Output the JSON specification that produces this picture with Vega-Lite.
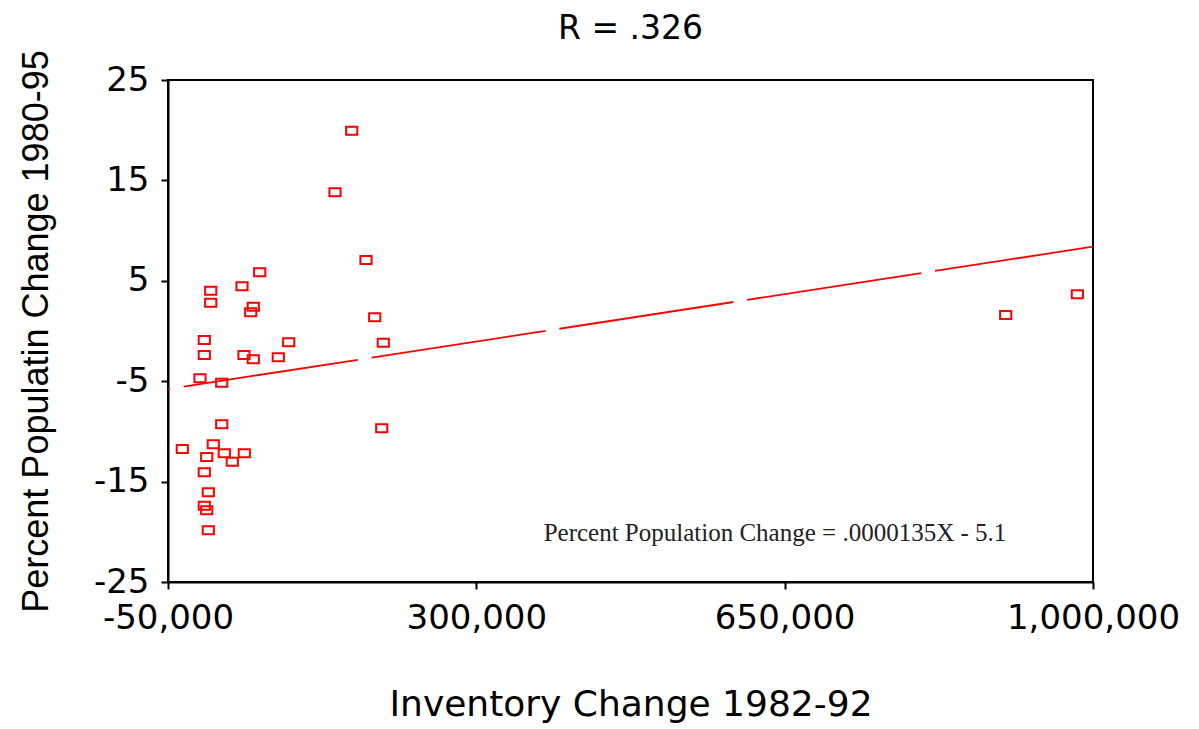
{
  "$schema": "https://vega.github.io/schema/vega-lite/v6.json",
  "width": 925,
  "height": 502,
  "autosize": {"type": "none"},
  "padding": {"left": 168, "top": 80, "right": 106, "bottom": 147},
  "background": "white",
  "title": {
    "text": "R = .326",
    "anchor": "middle",
    "frame": "group",
    "offset": 4,
    "font": "DejaVu Sans",
    "fontSize": 33,
    "fontWeight": "normal",
    "color": "black"
  },
  "config": {
    "view": {"stroke": "black", "strokeWidth": 2},
    "axis": {
      "grid": false,
      "domainColor": "black",
      "domainWidth": 2,
      "tickColor": "black",
      "tickWidth": 2,
      "tickSize": 7,
      "labelFont": "DejaVu Sans",
      "labelFontSize": 34,
      "labelColor": "black",
      "titleColor": "black",
      "titleFontWeight": "normal"
    }
  },
  "datasets": {
    "points": [
      {"x": 158520, "y": 19.95},
      {"x": 139560, "y": 13.81},
      {"x": 174750, "y": 7.07},
      {"x": 54090, "y": 5.85},
      {"x": 34000, "y": 4.45},
      {"x": -1530, "y": 4.01},
      {"x": -1530, "y": 2.81},
      {"x": 46830, "y": 2.42},
      {"x": 43870, "y": 1.86},
      {"x": 184630, "y": 1.37},
      {"x": -8800, "y": -0.9},
      {"x": 87010, "y": -1.13},
      {"x": 194390, "y": -1.17},
      {"x": -8800, "y": -2.39},
      {"x": 36270, "y": -2.39},
      {"x": 46830, "y": -2.82},
      {"x": 75200, "y": -2.62},
      {"x": -13680, "y": -4.71},
      {"x": 10950, "y": -5.15},
      {"x": 10950, "y": -9.29},
      {"x": 192570, "y": -9.69},
      {"x": -33770, "y": -11.75},
      {"x": 1420, "y": -11.28},
      {"x": -6070, "y": -12.55},
      {"x": 13910, "y": -12.18},
      {"x": 22990, "y": -13.02},
      {"x": 36610, "y": -12.18},
      {"x": -8800, "y": -14.07},
      {"x": -4260, "y": -16.07},
      {"x": -8800, "y": -17.4},
      {"x": -6070, "y": -17.86},
      {"x": -4260, "y": -19.85},
      {"x": 900890, "y": 1.59},
      {"x": 982250, "y": 3.66}
    ],
    "fit": [
      {"x": -50000, "y": -5.775},
      {"x": 1000000, "y": 8.4}
    ],
    "note": [
      {"label": "Percent Population Change = .0000135X - 5.1", "x": 639000, "y": -20.1}
    ]
  },
  "layer": [
    {
      "data": {"name": "fit"},
      "mark": {"type": "line", "color": "#ff0000", "strokeWidth": 1.8, "strokeDash": [176, 14], "strokeDashOffset": 174, "clip": true},
      "encoding": {
        "x": {
          "field": "x", "type": "quantitative",
          "scale": {"domain": [-50000, 1000000], "nice": false, "zero": false},
          "axis": {
            "values": [-50000, 300000, 650000, 1000000],
            "labelExpr": "replace(format(datum.value, ','), '\u2212', '-')",
            "labelPadding": 12,
            "labelFlush": false,
            "title": "Inventory Change 1982-92",
            "titleFont": "DejaVu Sans",
            "titleFontSize": 36,
            "titlePadding": 52
          }
        },
        "y": {
          "field": "y", "type": "quantitative",
          "scale": {"domain": [-25, 25], "nice": false, "zero": false},
          "axis": {
            "values": [25, 15, 5, -5, -15, -25],
            "labelExpr": "replace(format(datum.value, 'd'), '\u2212', '-')",
            "labelPadding": 12,
            "title": "Percent Populatin Change 1980-95",
            "titleFont": "Liberation Sans",
            "titleFontSize": 36,
            "titlePadding": 38
          }
        }
      }
    },
    {
      "data": {"name": "points"},
      "mark": {
        "type": "point",
        "shape": "M-1,-0.72H1V0.72H-1Z",
        "filled": false,
        "stroke": "#ff0000",
        "strokeWidth": 2,
        "size": 125,
        "opacity": 1
      },
      "encoding": {
        "x": {"field": "x", "type": "quantitative"},
        "y": {"field": "y", "type": "quantitative"}
      }
    },
    {
      "data": {"name": "note"},
      "mark": {"type": "text", "font": "Liberation Serif", "fontSize": 25, "color": "#222222", "align": "center", "baseline": "middle"},
      "encoding": {
        "x": {"field": "x", "type": "quantitative"},
        "y": {"field": "y", "type": "quantitative"},
        "text": {"field": "label"}
      }
    }
  ]
}
